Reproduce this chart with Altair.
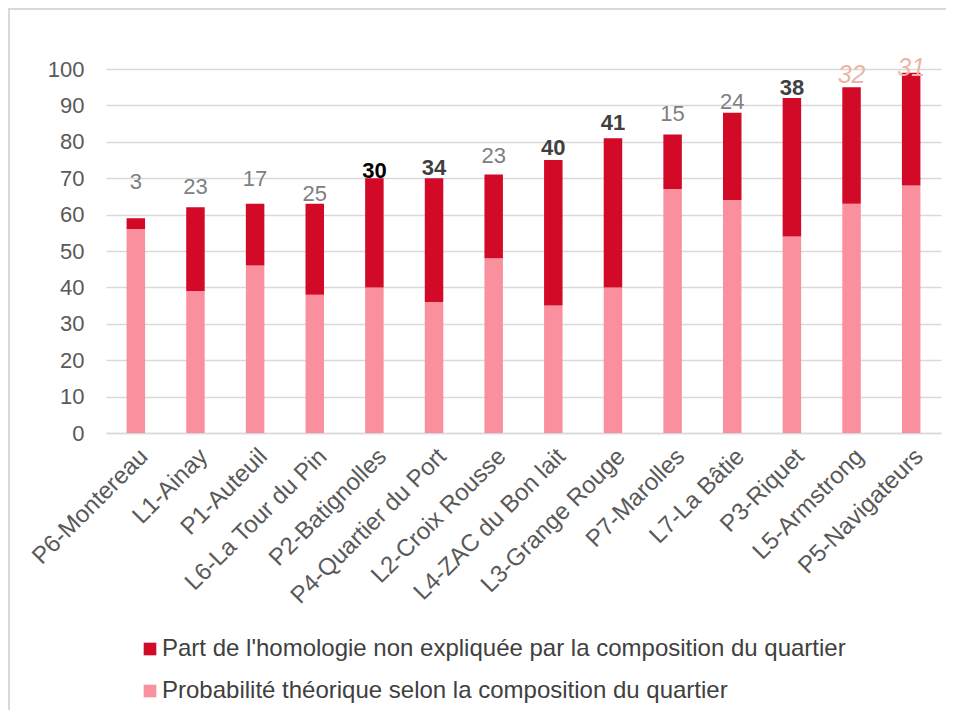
import altair as alt
import pandas as pd

categories = ["P6-Montereau", "L1-Ainay", "P1-Auteuil", "L6-La Tour du Pin",
              "P2-Batignolles", "P4-Quartier du Port", "L2-Croix Rousse",
              "L4-ZAC du Bon lait", "L3-Grange Rouge", "P7-Marolles",
              "L7-La Bâtie", "P3-Riquet", "L5-Armstrong", "P5-Navigateurs"]
theoretical = [56, 39, 46, 38, 40, 36, 48, 35, 40, 67, 64, 54, 63, 68]
unexplained = [3, 23, 17, 25, 30, 34, 23, 40, 41, 15, 24, 38, 32, 31]
label_at = [68.9, 67.6, 69.9, 65.7, 71.9, 72.8, 76.2, 78.4, 85.2, 87.7, 91.0, 94.8, 98.3, 100.2]
label_group = ["plain", "plain", "plain", "plain", "black", "bold", "plain",
               "bold", "bold", "plain", "plain", "bold", "italic", "italic"]
y_ticks = [0, 10, 20, 30, 40, 50, 60, 70, 80, 90, 100]

S_RED = "Part de l'homologie non expliquée par la composition du quartier"
S_PINK = "Probabilité théorique selon la composition du quartier"

rows = []
for c, t, u in zip(categories, theoretical, unexplained):
    rows.append({"cat": c, "serie": S_PINK, "val": t, "ord": 0})
    rows.append({"cat": c, "serie": S_RED, "val": u, "ord": 1})
bars_df = pd.DataFrame(rows)

lab_df = pd.DataFrame({"cat": categories, "lab": unexplained, "pos": label_at, "grp": label_group})

FONT = "Liberation Sans"
xscale = alt.Scale(paddingInner=0.69, paddingOuter=0.345)
yscale = alt.Scale(domain=[0, 100], nice=False)
xaxis = alt.Axis(labelAngle=-45, labelAlign="right", labelBaseline="top",
                 labelPadding=11, labelFontSize=24, labelColor="#595959",
                 labelFont=FONT, ticks=False, domainColor="#d9d9d9",
                 domainWidth=1.5, grid=False, labelLimit=400, title=None)
yaxis = alt.Axis(values=y_ticks, labelFontSize=22, labelOverlap=False,
                 labelColor="#595959", labelFont=FONT, labelPadding=22,
                 ticks=False, domain=False, gridColor="#d9d9d9", gridWidth=1.5,
                 title=None)

bars = alt.Chart(bars_df).mark_bar().encode(
    x=alt.X("cat:N", sort=categories, title=None, scale=xscale, axis=xaxis),
    y=alt.Y("val:Q", stack="zero", scale=yscale, title=None, axis=yaxis),
    color=alt.Color("serie:N",
                    scale=alt.Scale(domain=[S_RED, S_PINK], range=["#d20a27", "#fa909e"]),
                    legend=alt.Legend(title=None, orient="none", legendX=32, legendY=568,
                                      direction="vertical", symbolType="square",
                                      symbolSize=160, symbolStrokeWidth=0,
                                      labelFontSize=24, labelColor="#404040",
                                      labelFont=FONT, labelOffset=0, rowPadding=18,
                                      labelLimit=900)),
    order=alt.Order("ord:Q", sort="ascending"),
)


def labels(grp, color, size, weight="normal", style="normal"):
    return alt.Chart(lab_df).transform_filter(alt.datum.grp == grp).mark_text(
        font=FONT, fontSize=size, fontWeight=weight, fontStyle=style,
        color=color, baseline="middle", align="center"
    ).encode(x=alt.X("cat:N", sort=categories, title=None, axis=xaxis, scale=xscale),
             y=alt.Y("pos:Q", scale=yscale, title=None, axis=yaxis),
             text="lab:Q")


frame = alt.Chart(lab_df).mark_rect(fill=None, stroke="#d9d9d9", strokeWidth=1.5).encode(
    x=alt.value(-97), x2=alt.value(900), y=alt.value(-60), y2=alt.value(720))

chart = alt.layer(
    frame,
    bars,
    labels("plain", "#808080", 22),
    labels("black", "#000000", 22, "bold"),
    labels("bold", "#404040", 22, "bold"),
    labels("italic", "#ebb6a6", 25, "normal", "italic"),
).properties(
    width=835, height=364,
    autosize=alt.AutoSizeParams(type="none"),
    padding={"left": 98, "top": 61, "right": 5, "bottom": 277},
).configure_view(stroke=None)

chart.save("out.html", embed_options={"renderer": "svg", "actions": False})
